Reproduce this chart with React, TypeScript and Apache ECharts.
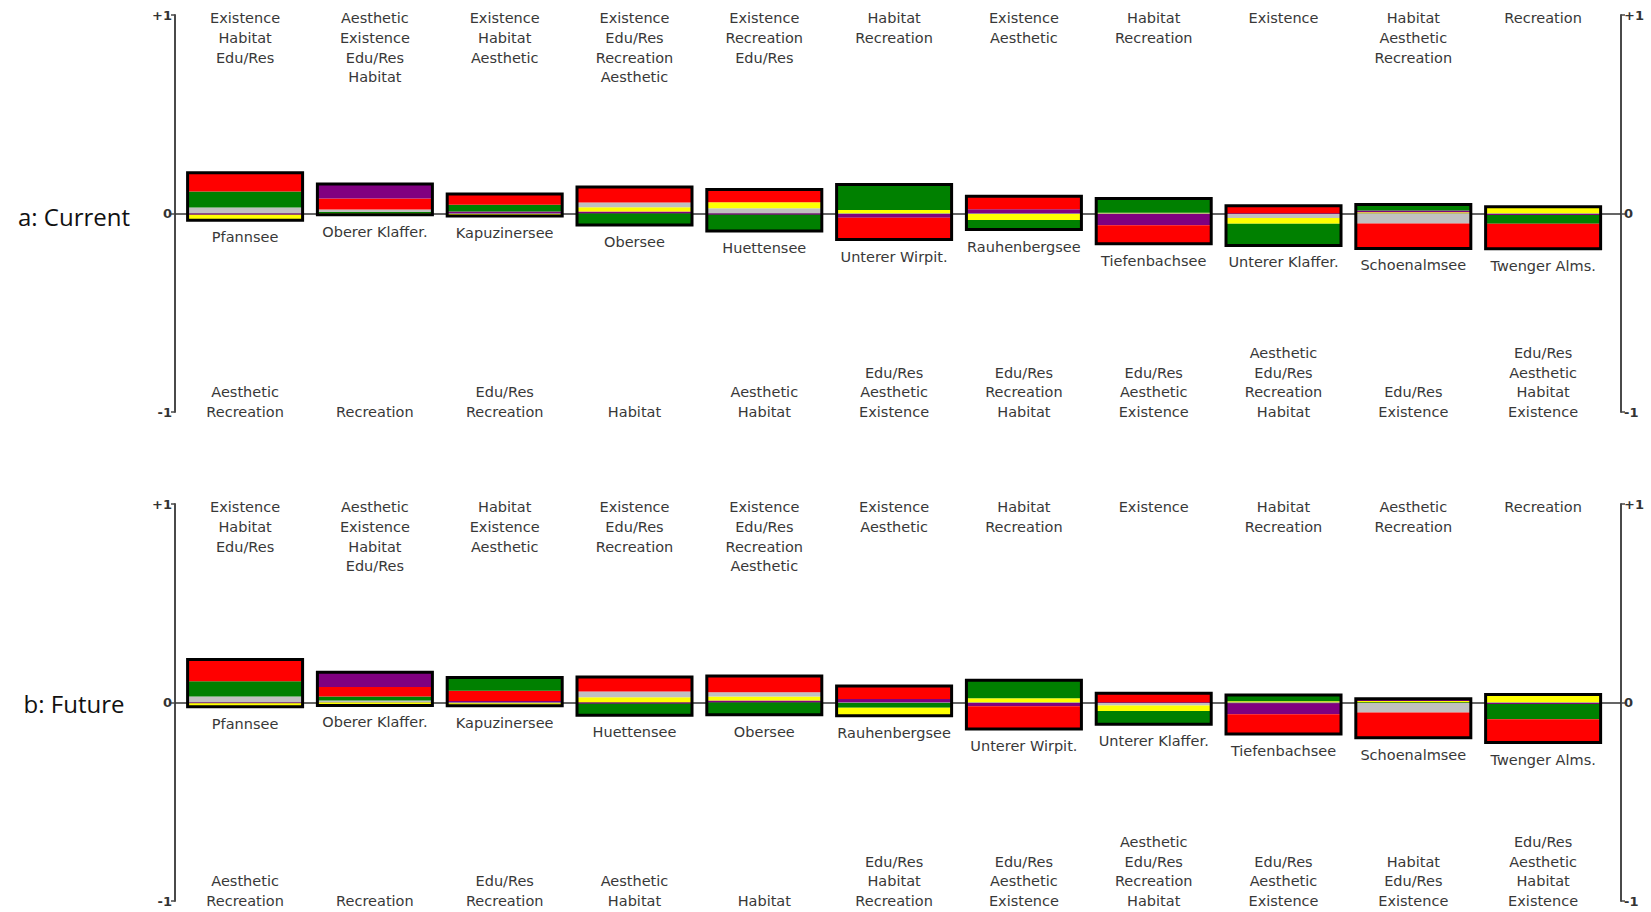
import React, { useEffect, useRef } from 'react';
import * as echarts from 'echarts';

// Criteria, in the column order of the value arrays below
const CRITERIA = ['Existence', 'Habitat', 'Edu/Res', 'Aesthetic', 'Recreation'];
const CRITERION_COLORS = ['#ff0000', '#008000', '#c0c0c0', '#800080', '#ffff00'];
const Y_TICK_LABELS = ['-1', '0', '+1'];
const PANEL_TITLES = ['a: Current', 'b: Future'];

// a: Current — net flow contributions per lake
const currentLakes = ['Pfannsee', 'Oberer Klaffer.', 'Kapuzinersee', 'Obersee', 'Huettensee', 'Unterer Wirpit.', 'Rauhenbergsee', 'Tiefenbachsee', 'Unterer Klaffer.', 'Schoenalmsee', 'Twenger Alms.'];
const currentExistence = [0.094, 0.055, 0.054, 0.078, 0.064, -0.110, 0.066, -0.094, 0.039, -0.126, -0.125];
const currentHabitat = [0.081, 0.008, 0.034, -0.058, -0.082, 0.128, -0.048, 0.072, -0.109, 0.030, -0.045];
const currentEduRes = [0.030, 0.012, -0.003, 0.024, 0.027, -0.003, -0.002, -0.003, -0.020, -0.050, -0.002];
const currentAesthetic = [-0.006, 0.074, 0.010, 0.010, -0.006, -0.018, 0.021, -0.056, -0.003, 0.009, -0.005];
const currentRecreation = [-0.028, -0.006, -0.009, 0.021, 0.030, 0.018, -0.031, 0.004, -0.029, 0.006, 0.034];

// b: Future — net flow contributions per lake
const futureLakes = ['Pfannsee', 'Oberer Klaffer.', 'Kapuzinersee', 'Huettensee', 'Obersee', 'Rauhenbergsee', 'Unterer Wirpit.', 'Unterer Klaffer.', 'Tiefenbachsee', 'Schoenalmsee', 'Twenger Alms.'];
const futureExistence = [0.110, 0.048, 0.052, 0.072, 0.082, 0.065, -0.114, 0.046, -0.100, -0.128, -0.118];
const futureHabitat = [0.077, 0.020, 0.067, -0.058, -0.062, -0.024, 0.090, -0.066, 0.032, -0.003, -0.076];
const futureEduRes = [0.030, 0.010, -0.004, 0.030, 0.022, -0.003, -0.003, -0.012, -0.004, -0.047, -0.002];
const futureAesthetic = [-0.004, 0.074, 0.007, -0.006, 0.010, 0.018, -0.016, -0.003, -0.055, 0.011, -0.006];
const futureRecreation = [-0.018, -0.015, -0.012, 0.026, 0.020, -0.040, 0.022, -0.028, 0.006, 0.008, 0.040];

const panels = [
  { names: currentLakes, cols: [currentExistence, currentHabitat, currentEduRes, currentAesthetic, currentRecreation] },
  { names: futureLakes, cols: [futureExistence, futureHabitat, futureEduRes, futureAesthetic, futureRecreation] },
];

const LABEL_FONT = 'DejaVu Sans';
const LABEL_COLOR = '#383838';
const BAR_SHARE = 0.886;
const LINE_H = 19.8;

// One group per lake: stacked criterion slices, black frame, name and ranked criterion lists
const makeRenderer = (names: string[]) => (params: any, api: any) => {
  const i = api.value(0);
  const vals = CRITERIA.map((_, k) => api.value(k + 1) as number);
  const items = vals.map((v, k) => ({ v, k }));
  const pos = items.filter((d) => d.v > 0).sort((a, b) => a.v - b.v);
  const neg = items.filter((d) => d.v < 0).sort((a, b) => b.v - a.v);
  const halfW = api.size([BAR_SHARE, 0])[0] / 2;
  const children: any[] = [];

  const stack = (list: { v: number; k: number }[]) => {
    let acc = 0;
    list.forEach((d) => {
      const p0 = api.coord([i, acc]);
      acc += d.v;
      const p1 = api.coord([i, acc]);
      children.push({
        type: 'rect',
        shape: { x: p0[0] - halfW, y: Math.min(p0[1], p1[1]), width: halfW * 2, height: Math.abs(p1[1] - p0[1]) },
        style: { fill: CRITERION_COLORS[d.k] },
      });
    });
    return acc;
  };
  const posTotal = stack(pos);
  const negTotal = stack(neg);

  const top = api.coord([i, posTotal]);
  const bottom = api.coord([i, negTotal]);
  children.push({
    type: 'rect',
    shape: { x: top[0] - halfW, y: top[1], width: halfW * 2, height: bottom[1] - top[1] },
    style: { fill: 'none', stroke: '#000', lineWidth: 3 },
  });

  const textStyle = { fill: LABEL_COLOR, fontSize: 14.5, fontFamily: LABEL_FONT, align: 'center', lineHeight: LINE_H };
  children.push({
    type: 'text',
    style: { ...textStyle, text: names[i], x: bottom[0], y: bottom[1] + 17, verticalAlign: 'middle' },
  });

  const upper = api.coord([i, 1]);
  children.push({
    type: 'text',
    style: {
      ...textStyle,
      text: pos.slice().reverse().map((d) => CRITERIA[d.k]).join('\n'),
      x: upper[0],
      y: upper[1] - 7,
      verticalAlign: 'top',
    },
  });

  const lower = api.coord([i, -1]);
  children.push({
    type: 'text',
    style: {
      ...textStyle,
      text: neg.map((d) => CRITERIA[d.k]).join('\n'),
      x: lower[0],
      y: lower[1] + 10,
      verticalAlign: 'bottom',
    },
  });

  return { type: 'group', children };
};

const GRID_TOPS = [15, 504];
const GRID_HEIGHT = 397;

function buildOption() {
  const grids = GRID_TOPS.map((t) => ({ left: 175, right: 30, top: t, height: GRID_HEIGHT }));
  const xAxes = GRID_TOPS.map((_, g) => ({
    type: 'value',
    gridIndex: g,
    min: -0.54,
    max: 10.6,
    axisLine: { show: true, onZero: true, lineStyle: { color: '#333', width: 1.5 } },
    axisTick: { show: false },
    axisLabel: { show: false },
    splitLine: { show: false },
  }));
  const yAxes: any[] = [];
  GRID_TOPS.forEach((_, g) => {
    ['left', 'right'].forEach((side) => {
      yAxes.push({
        type: 'value',
        gridIndex: g,
        position: side,
        min: -1,
        max: 1,
        interval: 1,
        axisLine: { show: true, onZero: false, lineStyle: { color: '#4a4a4a', width: 2 } },
        axisTick: { show: true, length: 4, lineStyle: { color: '#4a4a4a', width: 1.5 } },
        axisLabel: {
          margin: 3,
          fontSize: 13,
          fontWeight: 'bold',
          fontFamily: LABEL_FONT,
          color: '#333',
          formatter: (v: number) => Y_TICK_LABELS[Math.round(v) + 1],
        },
        splitLine: { show: false },
      });
    });
  });

  const series = panels.map((p, g) => ({
    type: 'custom',
    xAxisIndex: g,
    yAxisIndex: g * 2,
    renderItem: makeRenderer(p.names),
    data: p.names.map((_, i) => [i, ...p.cols.map((c) => c[i])]),
    z: 3,
  }));

  return {
    animation: false,
    backgroundColor: '#ffffff',
    grid: grids,
    xAxis: xAxes,
    yAxis: yAxes,
    series,
    graphic: PANEL_TITLES.map((t, g) => ({
      type: 'text',
      x: 74,
      y: g === 0 ? 216 : 703,
      style: {
        text: t,
        fontSize: 24,
        fontFamily: 'Open Sans',
        fill: '#111',
        align: 'center',
        verticalAlign: 'middle',
      },
    })),
  };
}

export default function App() {
  const ref = useRef<HTMLDivElement>(null);
  useEffect(() => {
    if (!ref.current) return;
    const chart = echarts.init(ref.current, undefined, { renderer: 'svg' });
    chart.setOption(buildOption() as any);
    return () => chart.dispose();
  }, []);
  return (
    <div
      ref={ref}
      style={{ position: 'fixed', left: 0, top: 0, width: 1651, height: 912, background: '#fff' }}
    />
  );
}
